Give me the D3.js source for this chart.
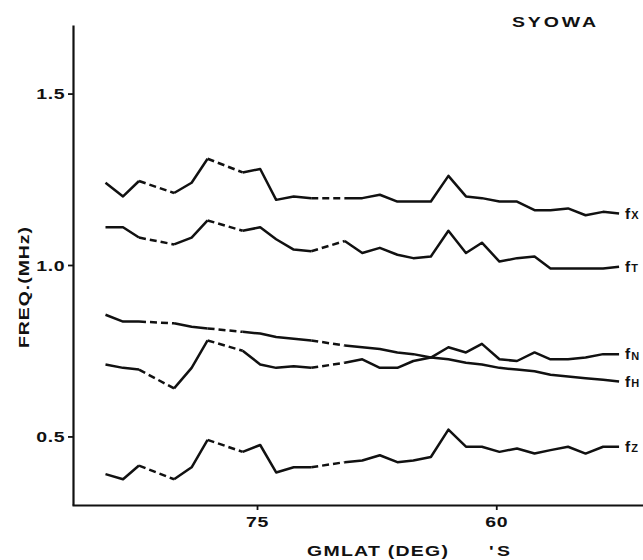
<!DOCTYPE html>
<html>
<head>
<meta charset="utf-8">
<script src="https://cdn.jsdelivr.net/npm/d3@7"></script>
<style>
  body { margin: 0; background: #fff; }
  text { font-family: "Liberation Sans", Arial, sans-serif; font-weight: bold; fill: #111; }
</style>
</head>
<body>
<div id="chart"></div>
<script>
// Sample positions (GMLAT, deg S)
const gmlat = [84.5, 83.4, 82.4, 81.3, 80.2, 79.1, 78.1, 77.0, 75.9, 74.8,
               73.8, 72.7, 71.6, 70.5, 69.5, 68.4, 67.3, 66.2, 65.2, 64.1,
               63.0, 61.9, 60.9, 59.8, 58.7, 57.6, 56.6, 55.5, 54.4, 53.3, 52.3];

// Frequencies in MHz, null = no data (drawn as a dashed bridge)
const fX = [1.24, 1.20, 1.245, null, 1.21, 1.24, 1.31, null, 1.27, 1.28,
            1.19, 1.20, 1.195, null, 1.195, 1.195, 1.205, 1.185, 1.185, 1.185,
            1.26, 1.20, 1.195, 1.185, 1.185, 1.16, 1.16, 1.165, 1.145, 1.155, 1.15];
const fT = [1.11, 1.11, 1.08, null, 1.06, 1.08, 1.13, null, 1.10, 1.11,
            1.075, 1.045, 1.04, null, 1.07, 1.035, 1.05, 1.03, 1.02, 1.025,
            1.10, 1.035, 1.065, 1.01, 1.02, 1.025, 0.99, 0.99, 0.99, 0.99, 0.995];
const fN = [0.71, 0.70, 0.695, null, 0.64, 0.70, 0.78, null, 0.75, 0.71,
            0.70, 0.705, 0.70, null, 0.715, 0.725, 0.70, 0.70, 0.72, 0.73,
            0.76, 0.745, 0.77, 0.725, 0.72, 0.745, 0.725, 0.725, 0.73, 0.74, 0.74];
const fH = [0.855, 0.835, 0.835, null, 0.83, 0.82, 0.815, null, 0.805, 0.80,
            0.79, 0.785, 0.78, null, 0.765, 0.76, 0.755, 0.745, 0.74, 0.73,
            0.725, 0.715, 0.71, 0.70, 0.695, 0.69, 0.68, 0.675, 0.67, 0.665, 0.66];
const fZ = [0.39, 0.375, 0.415, null, 0.375, 0.41, 0.49, null, 0.455, 0.475,
            0.395, 0.41, 0.41, null, 0.425, 0.43, 0.445, 0.425, 0.43, 0.44,
            0.52, 0.47, 0.47, 0.455, 0.465, 0.45, 0.46, 0.47, 0.45, 0.47, 0.47];

const series = [
  { sub: "X", values: fX },
  { sub: "T", values: fT },
  { sub: "N", values: fN },
  { sub: "H", values: fH },
  { sub: "Z", values: fZ }
];
const yTicks = [0.5, 1.0, 1.5];
const xTicks = [75, 60];

const width = 643, height = 560;
const stretch = 1.3; // the original lettering is a wide face

const svg = d3.select("#chart").append("svg")
    .attr("width", width)
    .attr("height", height);

const x = d3.scaleLinear().domain([86.6, 50.8]).range([72, 643]);
const y = d3.scaleLinear().domain([0.3, 1.7]).range([505, 25]);

// Axes
const yAxis = svg.append("g")
    .attr("transform", "translate(73,0)")
    .call(d3.axisLeft(y).tickValues(yTicks).tickFormat(d3.format(".1f")).tickSize(5).tickSizeOuter(0));

const xAxis = svg.append("g")
    .attr("transform", "translate(0,505)")
    .call(d3.axisBottom(x).tickValues(xTicks).tickSize(5).tickSizeOuter(0));

[yAxis, xAxis].forEach(g => {
    g.select(".domain").attr("stroke", "#111").attr("stroke-width", 2.2);
    g.selectAll(".tick line").attr("stroke", "#111").attr("stroke-width", 1.8);
    g.selectAll(".tick text")
        .attr("font-size", 15)
        .attr("letter-spacing", 0.5)
        .attr("font-family", null)
        .attr("fill", "#111");
});
yAxis.selectAll(".tick text")
    .attr("x", -6).attr("dy", "0.36em")
    .attr("transform", `scale(${stretch},1)`);
xAxis.selectAll(".tick text")
    .attr("y", 11)
    .attr("transform", `scale(${stretch},1)`);

// Series lines
const line = d3.line()
    .defined(d => d.v != null)
    .x(d => x(d.lat))
    .y(d => y(d.v));

series.forEach(s => {
    const pts = s.values.map((v, i) => ({ lat: gmlat[i], v }));

    svg.append("path")
        .datum(pts)
        .attr("d", line)
        .attr("fill", "none")
        .attr("stroke", "#111")
        .attr("stroke-width", 2.5)
        .attr("stroke-linejoin", "round");

    // dashed bridges over missing samples
    pts.forEach((p, i) => {
        if (p.v == null && i > 0 && pts[i - 1].v != null) {
            let j = i;
            while (j < pts.length && pts[j].v == null) j++;
            if (j < pts.length) {
                svg.append("path")
                    .datum([pts[i - 1], pts[j]])
                    .attr("d", line)
                    .attr("fill", "none")
                    .attr("stroke", "#111")
                    .attr("stroke-width", 2.5)
                    .attr("stroke-dasharray", "7,4");
            }
        }
    });

    // right-hand label
    const last = pts[pts.length - 1];
    const t = svg.append("text")
        .attr("transform", `translate(${x(last.lat) + 6},${y(last.v) + 5}) scale(1.1,1)`)
        .attr("font-size", 14);
    t.append("tspan").text("f");
    t.append("tspan").attr("font-size", 10).attr("dx", 1).attr("dy", 0.5).text(s.sub);
});

// Wide lettering helper: place text at (px, py) spanning w pixels
const wideText = (px, py, str, size, w, rotate) => {
    svg.append("text")
        .attr("transform", `translate(${px},${py})${rotate ? " rotate(-90)" : ""} scale(${stretch},1)`)
        .attr("font-size", size)
        .attr("textLength", w / stretch)
        .attr("lengthAdjust", "spacing")
        .text(str);
};

wideText(512, 27, "SYOWA", 15, 84);
wideText(29, 348, "FREQ.(MHz)", 15, 121, true);
wideText(307, 556, "GMLAT (DEG)", 15, 141);
wideText(489, 556, "'S", 15, 21);
</script>
</body>
</html>
